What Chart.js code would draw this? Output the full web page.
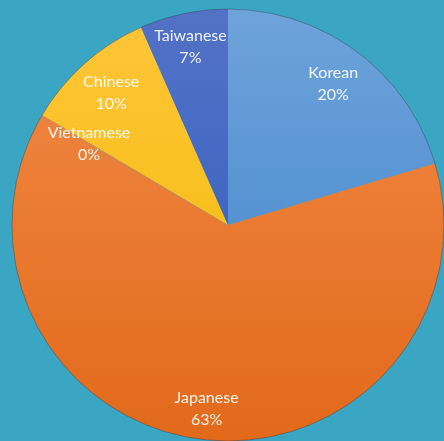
<!DOCTYPE html>
<html>
<head>
<meta charset="utf-8">
<script src="https://cdn.jsdelivr.net/npm/chart.js@4/dist/chart.umd.min.js"></script>
<style>
  html, body { margin: 0; padding: 0; background: #3aa6c4; }
  #wrap { width: 444px; height: 441px; }
</style>
</head>
<body>
<div id="wrap"><canvas id="pieChart"></canvas></div>
<script>
// Share of students by nationality (%)
const labels = ['Korean', 'Japanese', 'Vietnamese', 'Chinese', 'Taiwanese'];
const shares = [20.4, 62.9, 0.2, 9.9, 6.6];
const topColors = ['#6ea3da', '#f28b48', '#f28b48', '#ffc53a', '#5372c6'];
const bottomColors = ['#3d82cb', '#e2691a', '#e2691a', '#f0ba00', '#2d5bbf'];

// vertical gradient over the whole pie, like the original
function sliceFill(context) {
  const chart = context.chart;
  const area = chart.chartArea;
  if (!area) return topColors[context.dataIndex];
  const g = chart.ctx.createLinearGradient(0, area.top, 0, area.bottom);
  g.addColorStop(0, topColors[context.dataIndex]);
  g.addColorStop(1, bottomColors[context.dataIndex]);
  return g;
}

// thin dark rim round the pie + label and percent inside each slice
const labelRadius = [0.815, 0.855, 0.745, 0.815, 0.845];
const sliceLabels = {
  id: 'sliceLabels',
  afterDatasetsDraw(chart) {
    const ctx = chart.ctx;
    const meta = chart.getDatasetMeta(0);
    const first = meta.data[0];
    ctx.save();
    ctx.beginPath();
    ctx.arc(first.x, first.y, first.outerRadius, 0, Math.PI * 2);
    ctx.strokeStyle = 'rgba(40,40,60,0.35)';
    ctx.lineWidth = 1;
    ctx.stroke();

    ctx.font = '16px Lato, "Open Sans", sans-serif';
    ctx.fillStyle = 'rgba(255,255,255,0.9)';
    ctx.textAlign = 'center';
    ctx.textBaseline = 'middle';
    meta.data.forEach((arc, i) => {
      const p = arc.getProps(['x', 'y', 'startAngle', 'endAngle', 'outerRadius'], true);
      const mid = (p.startAngle + p.endAngle) / 2;
      const r = p.outerRadius * labelRadius[i];
      const x = p.x + Math.cos(mid) * r;
      const y = p.y + Math.sin(mid) * r;
      ctx.fillText(labels[i], x, y - 11);
      ctx.fillText(Math.round(shares[i]) + '%', x, y + 11);
    });
    ctx.restore();
  }
};

const chart = new Chart(document.getElementById('pieChart'), {
  type: 'pie',
  data: {
    labels: labels,
    datasets: [{
      data: shares,
      backgroundColor: sliceFill,
      borderWidth: 0
    }]
  },
  options: {
    responsive: true,
    maintainAspectRatio: false,
    animation: false,
    layout: { padding: { left: 12, top: 9, right: 0, bottom: 0 } },
    plugins: {
      legend: { display: false },
      tooltip: { enabled: false }
    }
  },
  plugins: [sliceLabels]
});
</script>
</body>
</html>
